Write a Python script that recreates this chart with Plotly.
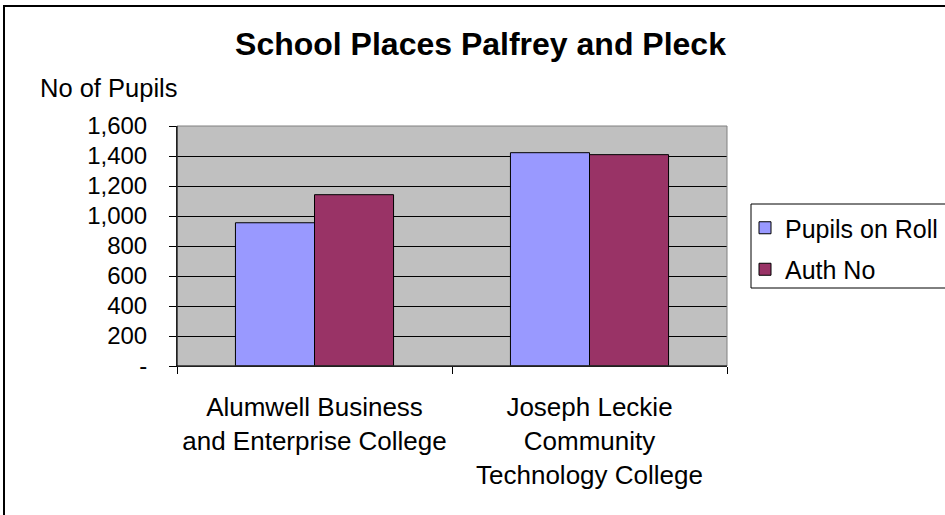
import plotly.graph_objects as go

categories = ["Alumwell Business<br>and Enterprise College",
              "Joseph Leckie<br>Community<br>Technology College"]
pupils_on_roll = [955, 1422]
auth_no = [1142, 1409]
series_names = ["Pupils on Roll", "Auth No"]
ytick_vals = [0, 200, 400, 600, 800, 1000, 1200, 1400, 1600]
ytick_text = ["-", "200", "400", "600", "800", "1,000", "1,200", "1,400", "1,600"]

FONT = "Liberation Sans, Arial, sans-serif"
W, H = 945, 515
L, R, T, B = 177, 727, 126, 366

def px(x):
    return (x - L) / (R - L)

def py(y):
    return (B - y) / (B - T)

fig = go.Figure()
fig.add_trace(go.Bar(x=categories, y=pupils_on_roll, name=series_names[0],
                     marker=dict(color="#9999FF", line=dict(color="black", width=1)),
                     legendgroup="a"))
fig.add_trace(go.Bar(x=categories, y=auth_no, name=series_names[1],
                     marker=dict(color="#993366", line=dict(color="black", width=1)),
                     legendgroup="b"))

fig.update_layout(
    width=W, height=H,
    margin=dict(l=L, r=W - R, t=T, b=H - B, autoexpand=False),
    paper_bgcolor="white",
    plot_bgcolor="#C0C0C0",
    font=dict(family=FONT, size=24, color="black"),
    barmode="group", bargap=0.425, bargroupgap=0,
    title=dict(text="<b>School Places Palfrey and Pleck</b>",
               font=dict(family=FONT, size=32, color="black"),
               x=480.5 / W, xanchor="center", xref="container",
               y=1 - 44 / H, yanchor="middle", yref="container"),
    legend=dict(x=px(745), xanchor="left", y=py(205), yanchor="top",
                bgcolor="rgba(0,0,0,0)", borderwidth=0,
                font=dict(family=FONT, size=25, color="black"),
                traceorder="grouped", tracegroupgap=6, itemwidth=30),
    showlegend=True,
)

fig.update_xaxes(showline=True, linecolor="black", linewidth=1,
                 ticks="outside", tickson="boundaries", ticklen=7,
                 tickcolor="black", tickwidth=1,
                 showgrid=False, ticklabelstandoff=18,
                 tickfont=dict(family=FONT, size=26, color="black"))
fig.update_yaxes(range=[0, 1600], tickvals=ytick_vals, ticktext=ytick_text,
                 showline=True, linecolor="black", linewidth=1,
                 ticks="outside", ticklen=7, tickcolor="black", tickwidth=1,
                 showgrid=True, gridcolor="black", gridwidth=1,
                 zeroline=False, ticklabelstandoff=17,
                 tickfont=dict(family=FONT, size=24, color="black"))

# plot-area border (gray top/right)
fig.add_shape(type="rect", xref="paper", yref="paper", x0=0, x1=1, y0=0, y1=1,
              line=dict(color="#808080", width=1), layer="above")
# black axis lines redrawn on top
fig.add_shape(type="line", xref="paper", yref="paper", x0=0, x1=0, y0=0, y1=1,
              line=dict(color="black", width=1), layer="above")
fig.add_shape(type="line", xref="paper", yref="paper", x0=0, x1=1, y0=0, y1=0,
              line=dict(color="black", width=1), layer="above")
# legend box
fig.add_shape(type="rect", xref="paper", yref="paper",
              x0=px(751), x1=px(960), y0=py(204), y1=py(288),
              line=dict(color="black", width=1), layer="below")
# outer chart frame
fig.add_shape(type="rect", xref="paper", yref="paper",
              x0=px(4), x1=px(990), y0=py(6), y1=py(560),
              line=dict(color="black", width=2), layer="above")

fig.add_annotation(text="No of Pupils", xref="paper", yref="paper",
                   x=px(38), xanchor="left", y=py(88), yanchor="middle",
                   showarrow=False, font=dict(family=FONT, size=25.5, color="black"))

fig.write_html("out.html",
               config={"displayModeBar": False},
               post_script="document.body.style.margin='0px';document.body.style.overflow='hidden';")
